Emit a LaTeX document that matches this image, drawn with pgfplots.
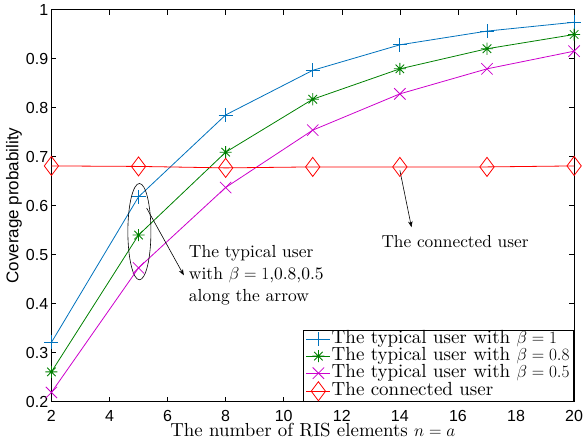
\documentclass[border={6bp 3bp 0bp 4bp}]{standalone}
\usepackage{pgfplots}
\pgfplotsset{compat=1.18}
\usepackage{fontspec}
\setmainfont{lmroman10-regular.otf}[ItalicFont=lmroman10-italic.otf, BoldFont=lmroman10-bold.otf]
\newfontfamily\arial{Liberation Sans}
\usetikzlibrary{arrows.meta}
\definecolor{mblue}{rgb}{0,0.447,0.741}
\definecolor{mgreen}{rgb}{0,0.5,0}
\definecolor{mmag}{rgb}{0.8,0,0.8}
% eight-armed asterisk, as MATLAB draws '*'
\pgfdeclareplotmark{ast8}{%
  \pgfpathmoveto{\pgfqpoint{-\pgfplotmarksize}{0pt}}\pgfpathlineto{\pgfqpoint{\pgfplotmarksize}{0pt}}%
  \pgfpathmoveto{\pgfqpoint{0pt}{-\pgfplotmarksize}}\pgfpathlineto{\pgfqpoint{0pt}{\pgfplotmarksize}}%
  \pgfpathmoveto{\pgfqpoint{-.7071\pgfplotmarksize}{-.7071\pgfplotmarksize}}\pgfpathlineto{\pgfqpoint{.7071\pgfplotmarksize}{.7071\pgfplotmarksize}}%
  \pgfpathmoveto{\pgfqpoint{-.7071\pgfplotmarksize}{.7071\pgfplotmarksize}}\pgfpathlineto{\pgfqpoint{.7071\pgfplotmarksize}{-.7071\pgfplotmarksize}}%
  \pgfusepathqstroke}
\begin{document}
\begin{tikzpicture}
\begin{axis}[
    scale only axis,
    width=521bp, height=391bp,
    xmin=2, xmax=20, ymin=0.2, ymax=1,
    xtick={2,4,...,20},
    ytick={0.2,0.3,...,1.0},
    yticklabels={0.2,0.3,0.4,0.5,0.6,0.7,0.8,0.9,1},
    tick align=inside,
    major tick length=5bp,
    axis line style={line width=1pt},
    tick style={line width=0.6pt, black},
    /pgf/number format/assume math mode=true,
    ticklabel style={font=\arial\fontsize{16}{18}\selectfont},
    xticklabel style={inner sep=0pt, anchor=north, yshift=-8.5bp},
    yticklabel style={inner sep=0pt, anchor=east, xshift=-3bp},
    xlabel={\fontsize{18.9}{20}\selectfont The number of RIS elements $n=a$},
    ylabel={\arial\fontsize{17}{18}\selectfont Coverage probability},
    xlabel style={at={(axis description cs:0.5,-0.089)}, anchor=base, inner sep=0pt},
    ylabel style={at={(axis description cs:-0.0633,0.5)}, anchor=base, inner sep=0pt},
    legend style={at={(1,0)}, anchor=south east, font=\fontsize{19}{19}\selectfont,
        draw=black, line width=1pt, inner xsep=3bp, inner ysep=0.5bp, row sep=0bp,
        cells={anchor=west},
        nodes={inner xsep=1bp, inner ysep=0pt, text height=12.5bp, text depth=4.5bp}},
    legend cell align=left,
    legend image code/.code={\draw[mark repeat=2,mark phase=2] plot coordinates {(0cm,0cm) (0.42cm,0cm) (0.84cm,0cm)};},
    every axis plot/.append style={line width=0.8pt},
    clip=false,
]
\addplot[color=mblue, mark=+, mark size=7bp, mark options={line width=0.8pt}] coordinates {
(2,0.321) (5,0.618) (8,0.785) (11,0.876) (14,0.928) (17,0.956) (20,0.974)};
\addplot[color=mgreen, mark=ast8, mark size=6bp, mark options={line width=0.8pt}] coordinates {
(2,0.261) (5,0.540) (8,0.709) (11,0.817) (14,0.879) (17,0.920) (20,0.949)};
\addplot[color=mmag, mark=x, mark size=8bp, mark options={line width=0.8pt}] coordinates {
(2,0.219) (5,0.473) (8,0.637) (11,0.754) (14,0.828) (17,0.879) (20,0.915)};
\addplot[color=red, mark=diamond, mark size=9.5bp, mark options={line width=0.8pt, fill=none}] coordinates {
(2,0.681) (5,0.680) (8,0.677) (11,0.679) (14,0.679) (17,0.679) (20,0.681)};
\legend{The typical user with $\beta=1$, The typical user with $\beta=0.8$, The typical user with $\beta=0.5$, The connected user}
\draw[line width=0.6pt] (axis cs:5.03,0.547) ellipse [x radius=11.5bp, y radius=48bp];
\draw[line width=0.6pt, -{Stealth[length=6bp]}] (axis cs:5.28,0.595) -- (axis cs:6.56,0.458);
\draw[line width=0.6pt, -{Stealth[length=6bp]}] (axis cs:14.0,0.672) -- (axis cs:14.4,0.556);
\node[anchor=west, align=left, font=\fontsize{17.5}{22}\selectfont, inner sep=0pt] at (axis cs:6.73,0.458)
  {The typical user\\with $\beta=1$,0.8,0.5\\along the arrow};
\node[font=\fontsize{17.3}{18}\selectfont] at (axis cs:15.9,0.527) {The connected user};
\end{axis}
\end{tikzpicture}
\end{document}
